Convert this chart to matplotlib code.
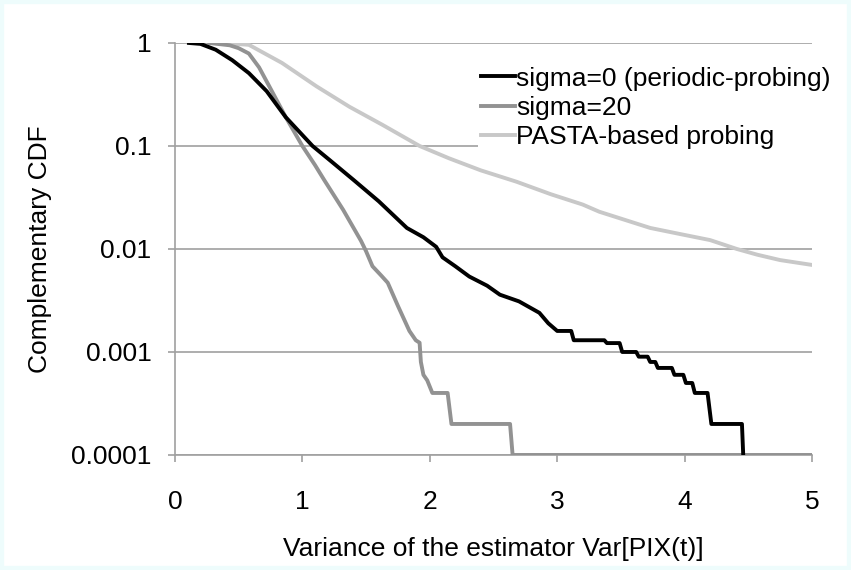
import matplotlib
matplotlib.use("Agg")
import matplotlib.pyplot as plt
from matplotlib.patches import Rectangle

plt.rcParams['font.family'] = ['Liberation Sans', 'DejaVu Sans']

# sigma=0 (periodic-probing)
x_sig0 = [0.11, 0.2, 0.32, 0.45, 0.58, 0.72, 0.87, 1.08, 1.22, 1.40, 1.60, 1.82,
          1.95, 2.05, 2.10, 2.20, 2.31, 2.45, 2.55, 2.70, 2.86, 2.93, 3.0, 3.11,
          3.13, 3.37, 3.39, 3.49, 3.51, 3.62, 3.64, 3.71, 3.73, 3.77, 3.79, 3.90,
          3.92, 3.99, 4.01, 4.06, 4.08, 4.18, 4.21, 4.45, 4.46]
y_sig0 = [1.0, 0.98, 0.86, 0.68, 0.51, 0.34, 0.19, 0.10, 0.072, 0.047, 0.029, 0.016,
          0.013, 0.0105, 0.0083, 0.0068, 0.0054, 0.0044, 0.0036, 0.0031, 0.0024, 0.0019, 0.0016, 0.0016,
          0.0013, 0.0013, 0.00122, 0.00122, 0.0010, 0.0010, 0.0009, 0.0009, 0.0008, 0.0008, 0.0007, 0.0007,
          0.0006, 0.0006, 0.0005, 0.0005, 0.0004, 0.0004, 0.0002, 0.0002, 0.0001]

# sigma=20
x_sig20 = [0.27, 0.43, 0.50, 0.58, 0.66, 0.74, 0.87, 1.00, 1.10, 1.17, 1.32, 1.46, 1.50, 1.55,
           1.62, 1.67, 1.75, 1.84, 1.89, 1.92, 1.93, 1.95, 1.98, 2.02, 2.14, 2.17,
           2.63, 2.65, 5.0]
y_sig20 = [1.0, 0.95, 0.89, 0.79, 0.58, 0.38, 0.19, 0.10, 0.065, 0.047, 0.024, 0.012, 0.0095, 0.0068,
           0.0055, 0.0047, 0.0028, 0.0016, 0.0013, 0.00123, 0.0008, 0.0006, 0.00053, 0.0004, 0.0004, 0.0002,
           0.0002, 0.0001, 0.0001]

# PASTA-based probing
x_pasta = [0.37, 0.58, 0.84, 1.11, 1.37, 1.63, 1.92, 2.15, 2.40, 2.68, 2.95, 3.2,
           3.33, 3.57, 3.73, 3.96, 4.2, 4.41, 4.57, 4.75, 5.0]
y_pasta = [1.0, 0.96, 0.64, 0.38, 0.24, 0.16, 0.10, 0.076, 0.058, 0.045, 0.034, 0.027,
           0.023, 0.0185, 0.016, 0.014, 0.0122, 0.010, 0.0088, 0.0078, 0.007]

y_ticks = [1, 0.1, 0.01, 0.001, 0.0001]
y_labels = ['1', '0.1', '0.01', '0.001', '0.0001']
x_ticks = [0, 1, 2, 3, 4, 5]

fs = 19

fig = plt.figure(figsize=(8.51, 5.70), dpi=100)
fig.patches.append(Rectangle((0, 0), 1, 1, transform=fig.transFigure, fill=False,
                             edgecolor='#eefcfc', linewidth=6, zorder=0))
ax = fig.add_axes([0.2056, 0.2018, 0.7486, 0.7228])

ax.plot(x_sig0, y_sig0, color='black', lw=2.8, label='sigma=0 (periodic-probing)', zorder=4)
ax.plot(x_sig20, y_sig20, color='#929292', lw=2.8, label='sigma=20', zorder=3)
ax.plot(x_pasta, y_pasta, color='#c8c8c8', lw=2.8, label='PASTA-based probing', zorder=2)

ax.set_yscale('log')
ax.set_ylim(0.0001, 1)
ax.set_xlim(0, 5)
ax.set_yticks(y_ticks)
ax.set_yticklabels(y_labels)
ax.minorticks_off()
ax.set_xticks(x_ticks)
ax.grid(axis='y', color='#a0a0a0', lw=1.2)
ax.set_axisbelow(True)

for s in ['top', 'right']:
    ax.spines[s].set_visible(False)
for s in ['left', 'bottom']:
    ax.spines[s].set_color('#a0a0a0')
    ax.spines[s].set_linewidth(1.2)
ax.tick_params(axis='both', color='#a0a0a0', width=1.2, length=5, labelsize=fs)
ax.tick_params(axis='y', pad=12)
ax.tick_params(axis='x', pad=20)

ax.set_xlabel('Variance of the estimator Var[PIX(t)]', fontsize=fs, labelpad=17)
ax.set_ylabel('Complementary CDF', fontsize=fs, labelpad=14)

leg = ax.legend(loc='upper left', bbox_to_anchor=(478 / 851, 1 - 64 / 570),
                bbox_transform=fig.transFigure, frameon=True, fontsize=fs,
                handlelength=1.3, handletextpad=0.05, labelspacing=0.2,
                borderpad=0.1, borderaxespad=0)
leg.get_frame().set_edgecolor('none')
leg.get_frame().set_facecolor('white')
leg.get_frame().set_alpha(1)

fig.savefig('out.png', dpi=100)
